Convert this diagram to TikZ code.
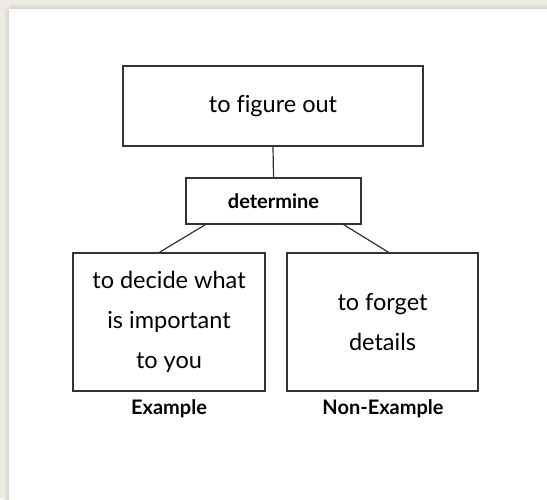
\documentclass[tikz,border=0pt]{standalone}
\usepackage{fontspec}
\setmainfont[Ligatures={NoCommon}]{Lato}
\begin{document}
\begin{tikzpicture}[x=1pt,y=-1pt,
  box/.style={draw=boxline,line width=1.3pt,rectangle,inner sep=0pt,align=center},
  word/.style={font=\fontsize{23.5}{40}\selectfont},
  tag/.style={font=\bfseries\fontsize{20}{22}\selectfont},
  link/.style={draw=boxline,line width=1.2pt}]
\definecolor{boxline}{HTML}{333333}
\definecolor{frame}{HTML}{EDEBE3}
\definecolor{frameshade}{HTML}{D6D4C8}
\useasboundingbox (0,0) rectangle (547,499);
% page frame with soft shadow along the top and left edges
\fill[frame] (0,0) rectangle (547,499);
\shade[top color=frame,bottom color=frameshade] (9,3) rectangle (547,9);
\shade[left color=frame,right color=frameshade] (3,9) rectangle (9,499);
\fill[white] (9,9) rectangle (547,499);
% concept boxes
\node[box,word,minimum width=300pt,minimum height=80pt] (def) at (273,106) {to figure out};
\node[box,tag,minimum width=175pt,minimum height=46pt] (word) at (273.5,201) {determine};
\node[box,word,minimum width=192pt,minimum height=138pt] (ex) at (169,322)
  {to decide what\\is important\\to you};
\node[box,word,minimum width=191pt,minimum height=138pt] (nonex) at (382.5,322)
  {to forget\\details};
% captions
\node[tag] (exlab) at (169,409) {Example};
\node[tag] (nonexlab) at (383,409) {Non-Example};
% connectors
\draw[link] (def.south) -- (word.north);
\draw[link] ([xshift=20pt]word.south west) -- ([xshift=87pt]ex.north west);
\draw[link] ([xshift=-18pt]word.south east) -- ([xshift=-90pt]nonex.north east);
\end{tikzpicture}
\end{document}
